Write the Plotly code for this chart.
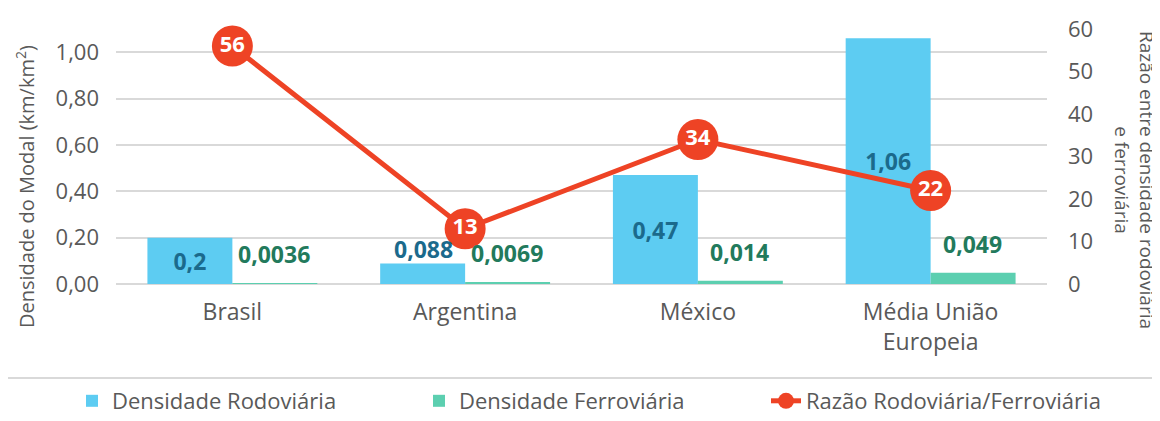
import plotly.graph_objects as go

categories = ["Brasil", "Argentina", "México", "Média União<br>Europeia"]
dens_rodo = [0.2, 0.088, 0.47, 1.06]
dens_ferro = [0.0036, 0.0069, 0.014, 0.049]
razao = [56, 13, 34, 22]

rodo_labels = [str(v).replace(".", ",") for v in dens_rodo]
ferro_labels = [str(v).replace(".", ",") for v in dens_ferro]
razao_labels = [str(v) for v in razao]

FONT = "Open Sans"
GRAY = "#595959"
RODO_TXT = "#1B6A8C"
FERRO_TXT = "#227A5C"
SMALL = 0.1  # rodoviária bars below this get their label on top of the bar

# the page body adds an 8px margin; geometry below is given in page pixels
OFF = 8
W, H = 1160 - OFF, 421 - OFF
L, R, T, B = 116 - OFF, 1047 - OFF, 29 - OFF, 284 - OFF
PW, PH = R - L, B - T

def px_x(p):
    return (p - OFF - L) / PW

def px_y(p):
    return (B - (p - OFF)) / PH

fig = go.Figure()
fig.add_trace(go.Bar(
    x=categories, y=dens_rodo, name="Densidade Rodoviária",
    marker=dict(color="#5DCCF2", line=dict(width=0)),
    text=rodo_labels,
    textposition=["inside" if v >= SMALL else "none" for v in dens_rodo],
    insidetextanchor="middle",
    textfont=dict(family=FONT, size=23, color=RODO_TXT, weight="bold"),
    insidetextfont=dict(family=FONT, size=23, color=RODO_TXT, weight="bold"),
    constraintext="none", cliponaxis=False,
))
fig.add_trace(go.Bar(
    x=categories, y=dens_ferro, name="Densidade Ferroviária",
    marker=dict(color="#5CCFB0", line=dict(width=0)),
    cliponaxis=False,
))
fig.add_trace(go.Scatter(
    x=categories, y=razao, name="Razão Rodoviária/Ferroviária", yaxis="y2",
    mode="lines+markers+text",
    line=dict(color="#EE4325", width=5),
    marker=dict(color="#EE4325", size=41, line=dict(width=0)),
    text=razao_labels, textposition="middle center",
    textfont=dict(family=FONT, size=22, color="white", weight="bold"),
    cliponaxis=False,
))

# small rodoviária labels sit on top of their bar
for c, v, lab in zip(categories, dens_rodo, rodo_labels):
    if v < SMALL:
        fig.add_annotation(x=c, y=v, xref="x", yref="y", text=lab, showarrow=False,
                           xanchor="center", yanchor="bottom", xshift=-42, yshift=-3,
                           font=dict(family=FONT, size=23, color=RODO_TXT, weight="bold"))

# ferroviária data labels, placed above each green bar
for c, v, lab in zip(categories, dens_ferro, ferro_labels):
    fig.add_annotation(x=c, y=v, xref="x", yref="y", text=lab, showarrow=False,
                       xanchor="center", yanchor="bottom", xshift=42, yshift=11,
                       font=dict(family=FONT, size=23, color=FERRO_TXT, weight="bold"))

fig.update_layout(
    width=W, height=H,
    margin=dict(l=L, r=W - R, t=T, b=H - B, autoexpand=False),
    paper_bgcolor="white", plot_bgcolor="white",
    separators=",.",
    barmode="group", bargap=0.27, bargroupgap=0,
    font=dict(family=FONT, color=GRAY, size=20),
    showlegend=True,
    legend=dict(orientation="h", x=px_x(72), xanchor="left",
                y=px_y(401), yanchor="middle",
                font=dict(family=FONT, size=22, color=GRAY),
                bgcolor="rgba(0,0,0,0)", entrywidth=302, entrywidthmode="pixels"),
    xaxis=dict(showgrid=False, showline=False, ticks="", automargin=False,
               tickfont=dict(family=FONT, size=23, color=GRAY), ticklabelstandoff=12),
    yaxis=dict(range=[0, 1.1], dtick=0.2, tickformat=".2f", automargin=False,
               showgrid=True, gridcolor="#D9D9D9", gridwidth=2,
               zeroline=True, zerolinecolor="#D9D9D9", zerolinewidth=2,
               showline=False, ticks="", ticklabelstandoff=16,
               tickfont=dict(family=FONT, size=22, color=GRAY)),
    yaxis2=dict(range=[0, 60], dtick=10, overlaying="y", side="right", automargin=False,
                showgrid=False, zeroline=False, showline=False, ticks="",
                ticklabelstandoff=20,
                tickfont=dict(family=FONT, size=22, color=GRAY)),
)

fig.add_annotation(
    text="Densidade do Modal (km/km<sup>2</sup>)",
    xref="paper", yref="paper", x=px_x(25), y=px_y(187),
    xanchor="center", yanchor="middle", textangle=-90, showarrow=False,
    font=dict(family=FONT, size=20, color=GRAY),
)
fig.add_annotation(
    text="Razão entre densidade rodoviária<br>e ferroviária",
    xref="paper", yref="paper", x=px_x(1135), y=px_y(180),
    xanchor="center", yanchor="middle", textangle=90, showarrow=False,
    font=dict(family=FONT, size=19, color=GRAY),
)

fig.add_shape(type="rect", xref="paper", yref="paper",
              x0=px_x(3), x1=px_x(1163), y0=px_y(378), y1=px_y(425),
              line=dict(color="#D9D9D9", width=2), fillcolor="rgba(0,0,0,0)")

fig.write_html("out.html")
